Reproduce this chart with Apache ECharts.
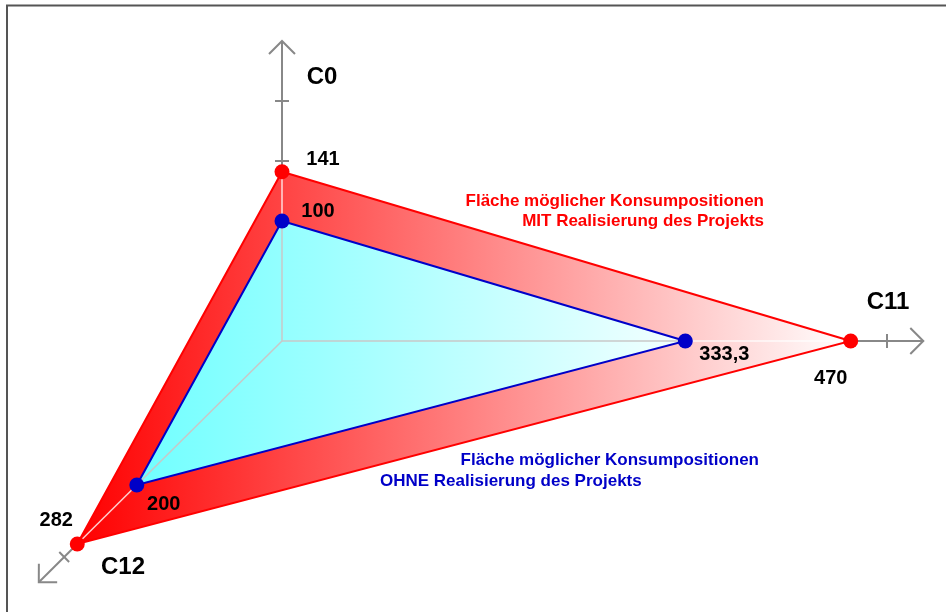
<!DOCTYPE html>
<html>
<head>
<meta charset="utf-8">
<script src="https://cdn.jsdelivr.net/npm/echarts@6/dist/echarts.min.js"></script>
<style>
  html, body { margin: 0; padding: 0; background: #fff; }
  #chart { width: 946px; height: 612px; }
</style>
</head>
<body>
<div id="chart"></div>
<script>
// Achsen des Konsumraums (Gegenwart, Zukunft Zustand 1, Zukunft Zustand 2)
const axisNames = ['C0', 'C11', 'C12'];
// maximale Konsumpositionen je Achse
const withProject = [141, 470, 282];     // MIT Realisierung des Projekts
const withoutProject = [100, 333.3, 200]; // OHNE Realisierung des Projekts
// Skalenstriche und Achsenenden (in Achseneinheiten)
const axisTicks = [[150, 200], [500], [300]];
const axisEnds = [250, 530, 335];
// Flächenbeschriftungen
const labelWith = ['Fläche möglicher Konsumpositionen', 'MIT Realisierung des Projekts'];
const labelWithout = ['Fläche möglicher Konsumpositionen', 'OHNE Realisierung des Projekts'];

const FONT = '"Liberation Sans", Arial, Helvetica, sans-serif';
const DEPTH = 0.6; // Schrägprojektion der dritten Achse

// Wert auf Achse i -> Ebenenkoordinaten
function project(i, v) {
  if (i === 0) return [0, v];
  if (i === 1) return [v, 0];
  return [-DEPTH * v, -DEPTH * v];
}
function fmt(v) { return String(v).replace('.', ','); }

const chart = echarts.init(document.getElementById('chart'), null, { renderer: 'canvas' });

function renderDiagram(params, api) {
  const O = api.coord([0, 0]);
  const red = withProject.map((v, i) => api.coord(project(i, v)));
  const blue = withoutProject.map((v, i) => api.coord(project(i, v)));
  const kids = [];

  kids.push({
    type: 'polygon', shape: { points: red },
    style: { fill: new echarts.graphic.LinearGradient(0, 0, 1, 0, [
      { offset: 0, color: '#ff0000' }, { offset: 1, color: '#ffffff' }]) }
  });
  red.forEach(p => kids.push({
    type: 'line', shape: { x1: O[0], y1: O[1], x2: p[0], y2: p[1] },
    style: { stroke: 'rgba(255,255,255,0.8)', lineWidth: 1.5 }
  }));
  kids.push({
    type: 'polygon', shape: { points: blue },
    style: { fill: new echarts.graphic.LinearGradient(0, 0, 1, 0, [
      { offset: 0, color: '#70ffff' }, { offset: 1, color: '#f4ffff' }]) }
  });
  blue.forEach(p => kids.push({
    type: 'line', shape: { x1: O[0], y1: O[1], x2: p[0], y2: p[1] },
    style: { stroke: '#c8c8c8', lineWidth: 1.5 }
  }));

  // sichtbare Achsenabschnitte mit Skalenstrichen und Pfeilspitzen
  const axisStyle = { stroke: '#888888', lineWidth: 2, fill: null };
  axisNames.forEach((name, i) => {
    const s = red[i];
    const e = api.coord(project(i, axisEnds[i]));
    const len = Math.hypot(e[0] - s[0], e[1] - s[1]);
    const d = [(e[0] - s[0]) / len, (e[1] - s[1]) / len];
    const n = [-d[1], d[0]];
    kids.push({ type: 'line', shape: { x1: s[0], y1: s[1], x2: e[0], y2: e[1] }, style: axisStyle });
    axisTicks[i].forEach(t => {
      const c = api.coord(project(i, t));
      kids.push({ type: 'line', shape: {
        x1: c[0] - n[0] * 7, y1: c[1] - n[1] * 7, x2: c[0] + n[0] * 7, y2: c[1] + n[1] * 7
      }, style: axisStyle });
    });
    const a = 13;
    kids.push({ type: 'polyline', shape: { points: [
      [e[0] - d[0] * a + n[0] * a, e[1] - d[1] * a + n[1] * a],
      [e[0], e[1]],
      [e[0] - d[0] * a - n[0] * a, e[1] - d[1] * a - n[1] * a]
    ] }, style: axisStyle });
  });

  kids.push({ type: 'polygon', shape: { points: red }, style: { fill: null, stroke: '#ff0000', lineWidth: 2 } });
  kids.push({ type: 'polygon', shape: { points: blue }, style: { fill: null, stroke: '#0000c8', lineWidth: 2 } });
  return { type: 'group', children: kids };
}

const redOffsets = [[41, -12], [-20, 37], [-21, -24]];
const blueOffsets = [[36, -10], [39, 13], [27, 19]];

function pointData(values, offsets) {
  return values.map((v, i) => {
    const p = project(i, v);
    return {
      value: [p[0], p[1], v],
      label: { offset: offsets[i] }
    };
  });
}

const valueLabel = {
  show: true, position: 'inside', align: 'center', verticalAlign: 'middle',
  formatter: p => fmt(p.value[2]),
  color: '#000000', opacity: 1, fontFamily: FONT, fontWeight: 'bold', fontSize: 20
};

function text(str, x, y, color, size, align) {
  return {
    type: 'text', x: x, y: y, z: 100,
    style: { text: str, fill: color, font: 'bold ' + size + 'px ' + FONT,
             textAlign: align, textVerticalAlign: 'middle' }
  };
}

chart.setOption({
  animation: false,
  grid: { left: 3.7, width: 931.7, top: 5, height: 600 },
  xAxis: { type: 'value', min: -230, max: 540, show: false },
  yAxis: { type: 'value', min: -220, max: 280, show: false },
  graphic: [
    { type: 'rect', shape: { x: 7, y: 5.5, width: 1200, height: 1200 },
      style: { fill: null, stroke: '#555555', lineWidth: 2 }, z: 100 },
    text(axisNames[0], 322, 77, '#000', 24, 'center'),
    text(axisNames[1], 888, 302, '#000', 24, 'center'),
    text(axisNames[2], 123, 567, '#000', 24, 'center'),
    text(labelWith[0], 764, 201, '#ff0000', 17, 'right'),
    text(labelWith[1], 764, 221, '#ff0000', 17, 'right'),
    text(labelWithout[0], 759, 460, '#0000c8', 17, 'right'),
    text(labelWithout[1], 380, 481, '#0000c8', 17, 'left')
  ],
  series: [
    { type: 'custom', renderItem: renderDiagram, data: [0], clip: false, silent: true, z: 1 },
    { type: 'scatter', data: pointData(withProject, redOffsets), symbol: 'circle', symbolSize: 15,
      itemStyle: { color: '#ff0000', opacity: 1 }, label: valueLabel, silent: true, z: 5 },
    { type: 'scatter', data: pointData(withoutProject, blueOffsets), symbol: 'circle', symbolSize: 15,
      itemStyle: { color: '#0000c8', opacity: 1 }, label: valueLabel, silent: true, z: 5 }
  ]
});
</script>
</body>
</html>
